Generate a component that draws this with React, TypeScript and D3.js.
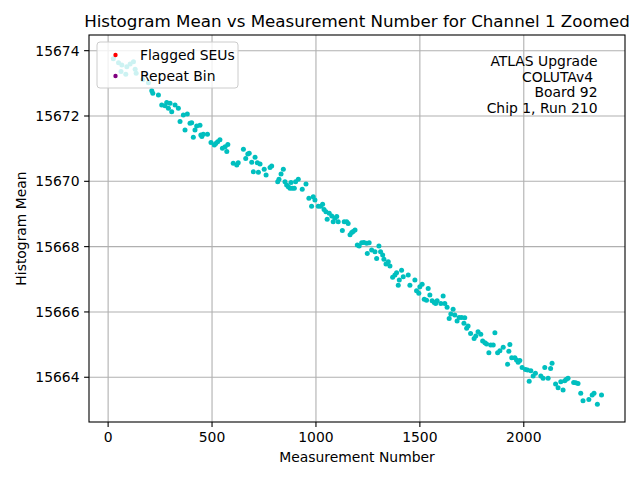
import * as d3 from "d3";

// measurement number of each histogram
const measurementNumber = [
  25, 50, 62, 66, 85, 90, 106, 122, 130, 135, 167, 194, 210, 215, 242, 258, 274, 282, 290, 298,
  306, 322, 338, 346, 362, 370, 381, 394, 402, 410, 418, 426, 442, 446, 451, 458, 478, 495, 511, 518,
  527, 538, 550, 563, 571, 576, 602, 619, 626, 651, 662, 672, 679, 691, 699, 707, 718, 723, 731, 751,
  760, 779, 787, 816, 822, 832, 843, 851, 859, 867, 875, 880, 886, 896, 902, 915, 934, 952, 966, 979,
  987, 995, 1011, 1023, 1032, 1039, 1048, 1054, 1064, 1076, 1083, 1091, 1100, 1107, 1127, 1136, 1148, 1155, 1164, 1172,
  1179, 1188, 1199, 1208, 1220, 1231, 1244, 1247, 1256, 1268, 1284, 1292, 1303, 1311, 1321, 1327, 1337, 1348, 1356, 1369,
  1380, 1388, 1396, 1401, 1412, 1420, 1444, 1452, 1476, 1484, 1495, 1500, 1511, 1521, 1532, 1540, 1548, 1559, 1569, 1576,
  1583, 1601, 1612, 1620, 1631, 1641, 1649, 1660, 1668, 1679, 1689, 1701, 1712, 1716, 1725, 1732, 1744, 1761, 1769, 1780,
  1793, 1802, 1813, 1821, 1832, 1841, 1853, 1861, 1874, 1885, 1901, 1922, 1928, 1933, 1942, 1957, 1965, 1973, 1981, 1992,
  2008, 2018, 2026, 2034, 2045, 2056, 2082, 2093, 2101, 2117, 2129, 2136, 2153, 2165, 2178, 2189, 2197, 2205, 2213, 2240,
  2250, 2261, 2274, 2285, 2313, 2329, 2338, 2354, 2374,
];

// histogram mean for each measurement
const histogramMean = [
  15673.75, 15673.63, 15673.36, 15673.56, 15673.28, 15673.51, 15673.59, 15673.66, 15673.43, 15673.31,
  15673.12, 15673.02, 15672.77, 15672.70, 15672.64, 15672.34, 15672.31, 15672.41, 15672.24, 15672.39,
  15672.13, 15672.34, 15672.24, 15671.83, 15672.03, 15671.57, 15672.06, 15671.78, 15671.79, 15671.35,
  15671.57, 15671.69, 15671.72, 15671.42, 15671.37, 15671.44, 15671.44, 15671.19, 15671.11, 15671.16,
  15671.21, 15671.27, 15671.01, 15671.06, 15670.91, 15671.13, 15670.55, 15670.50, 15670.57, 15670.98,
  15670.70, 15670.84, 15670.86, 15670.58, 15670.29, 15670.74, 15670.57, 15670.28, 15670.53, 15670.37,
  15670.19, 15670.42, 15670.47, 15669.99, 15670.06, 15670.22, 15670.37, 15669.99, 15669.89, 15669.83,
  15669.79, 15669.96, 15669.79, 15669.79, 15669.99, 15670.06, 15669.76, 15669.92, 15669.48, 15669.24,
  15669.53, 15669.43, 15669.24, 15669.24, 15669.30, 15669.14, 15669.07, 15668.84, 15669.02, 15668.94,
  15668.76, 15668.87, 15668.92, 15668.76, 15668.49, 15668.76, 15668.76, 15668.71, 15668.36, 15668.43,
  15668.46, 15668.51, 15668.05, 15668.02, 15668.12, 15668.13, 15668.10, 15667.79, 15668.12, 15667.90,
  15667.84, 15667.64, 15668.02, 15667.84, 15667.74, 15667.61, 15667.47, 15667.54, 15667.41, 15667.06,
  15667.13, 15667.20, 15666.82, 15666.98, 15667.28, 15667.08, 15667.13, 15666.82, 15666.98, 15666.65,
  15666.57, 15666.77, 15666.85, 15666.39, 15666.36, 15666.72, 15666.52, 15666.34, 15666.29, 15666.26,
  15666.34, 15666.26, 15666.49, 15666.26, 15666.14, 15665.80, 15665.94, 15666.08, 15665.91, 15665.72,
  15665.83, 15665.83, 15665.65, 15665.82, 15665.50, 15665.57, 15665.34, 15665.19, 15665.26, 15665.39,
  15665.32, 15665.11, 15665.06, 15665.02, 15664.75, 15664.99, 15664.99, 15665.36, 15664.75, 15664.81,
  15664.92, 15664.40, 15664.80, 15665.00, 15664.60, 15664.60, 15664.53, 15664.46, 15664.51, 15664.30,
  15664.24, 15664.22, 15663.88, 15664.20, 15664.04, 15664.12, 15664.04, 15663.97, 15664.30, 15663.97,
  15664.27, 15664.43, 15663.79, 15663.68, 15663.86, 15663.61, 15663.89, 15663.94, 15663.97, 15663.84,
  15663.83, 15663.81, 15663.51, 15663.28, 15663.32, 15663.46, 15663.51, 15663.17, 15663.46,
];

const xTicks = [0, 500, 1000, 1500, 2000];
const yTicks = [15664, 15666, 15668, 15670, 15672, 15674];

const legendLabels = ["Flagged SEUs", "Repeat Bin"];
const legendColors = ["red", "purple"];

const infoLines = ["ATLAS Upgrade", "COLUTAv4 ", "Board 92", "Chip 1, Run 210"];

const title = "Histogram Mean vs Measurement Number for Channel 1 Zoomed";

export default function App() {
  const width = 640, height = 480;
  const margin = { top: 35, right: 15, bottom: 58, left: 89 };
  const innerW = width - margin.left - margin.right;
  const innerH = height - margin.top - margin.bottom;

  const x = d3.scaleLinear().domain([-92, 2487]).range([0, innerW]);
  const y = d3.scaleLinear().domain([15662.63, 15674.48]).range([innerH, 0]);

  const font = "'DejaVu Sans', sans-serif";
  const points = measurementNumber.map((m, i) => ({ m, v: histogramMean[i] }));

  return (
    <svg width={width} height={height} style={{ position: "absolute", left: 0, top: 0, background: "#fff" }} fontFamily={font}>
      <text x={margin.left + innerW / 2} y={27} textAnchor="middle" fontSize={16.7}>{title}</text>
      <g transform={`translate(${margin.left},${margin.top})`}>
        {/* grid */}
        {xTicks.map((t) => (
          <line key={"gx" + t} x1={x(t)} x2={x(t)} y1={0} y2={innerH} stroke="#b0b0b0" strokeWidth={1.1} />
        ))}
        {yTicks.map((t) => (
          <line key={"gy" + t} x1={0} x2={innerW} y1={y(t)} y2={y(t)} stroke="#b0b0b0" strokeWidth={1.1} />
        ))}

        {/* scatter */}
        {points.map((p, i) => (
          <circle key={i} cx={x(p.m)} cy={y(p.v)} r={2.5} fill="#00bfbf" />
        ))}

        {/* axes box */}
        <rect x={0} y={0} width={innerW} height={innerH} fill="none" stroke="#000" strokeWidth={1.1} />

        {/* x ticks */}
        {xTicks.map((t) => (
          <g key={"tx" + t} transform={`translate(${x(t)},${innerH})`}>
            <line y2={4.9} stroke="#000" strokeWidth={1.1} />
            <text y={20} textAnchor="middle" fontSize={13.9}>{t}</text>
          </g>
        ))}
        {/* y ticks */}
        {yTicks.map((t) => (
          <g key={"ty" + t} transform={`translate(0,${y(t)})`}>
            <line x2={-4.9} stroke="#000" strokeWidth={1.1} />
            <text x={-9.5} dy="0.35em" textAnchor="end" fontSize={13.9}>{t}</text>
          </g>
        ))}

        {/* legend */}
        <g transform="translate(8,7)">
          <rect width={141} height={46} rx={3} fill="#fff" fillOpacity={0.8} stroke="#cccccc" strokeWidth={1} />
          {legendLabels.map((l, i) => (
            <g key={l} transform={`translate(0,${13 + i * 21})`}>
              <circle cx={18.5} cy={0} r={2.2} fill={legendColors[i]} />
              <text x={43} dy="0.35em" fontSize={13.9}>{l}</text>
            </g>
          ))}
        </g>

        {/* info box */}
        <text fontSize={13.9} textAnchor="end" style={{ whiteSpace: "pre" }}>
          {infoLines.map((l, i) => (
            <tspan key={i} x={innerW - 27.5} y={31 + i * 15.5}>{l}</tspan>
          ))}
        </text>
      </g>
      <text x={margin.left + innerW / 2} y={462} textAnchor="middle" fontSize={13.9}>Measurement Number</text>
      <text transform={`translate(26,${margin.top + innerH / 2}) rotate(-90)`} textAnchor="middle" fontSize={13.9}>Histogram Mean</text>
    </svg>
  );
}
